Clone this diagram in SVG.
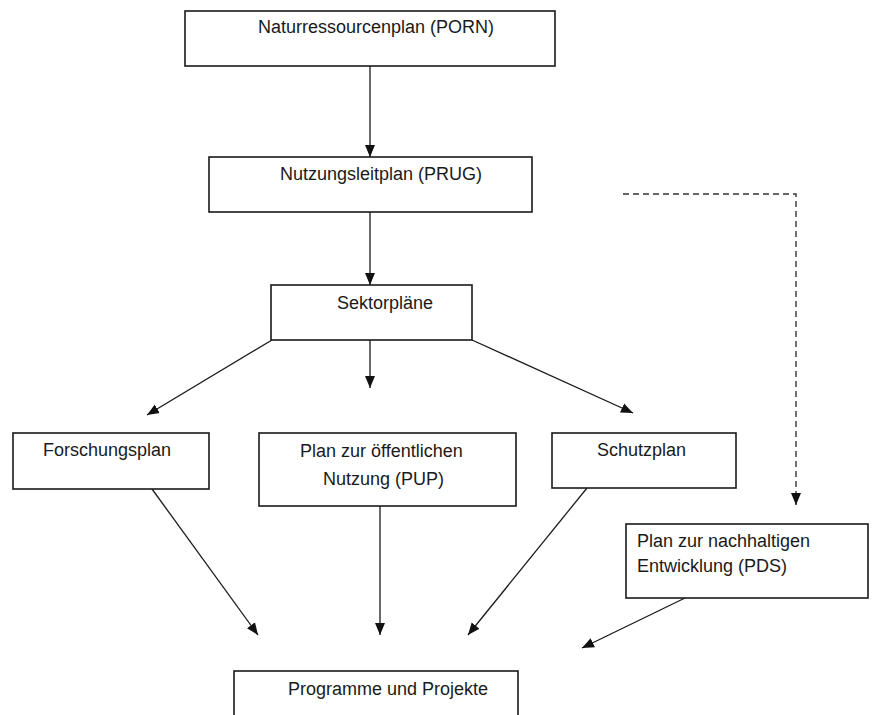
<svg xmlns="http://www.w3.org/2000/svg" width="872" height="715" viewBox="0 0 872 715">
<style>
.box{fill:#fff;stroke:#1a1a1a;stroke-width:1.6}
.t{font-family:"Liberation Sans",Arial,sans-serif;font-size:18px;fill:#1a1a1a}
.c{fill:none;stroke:#1a1a1a;stroke-width:1.3}
.d{fill:none;stroke:#333;stroke-width:1.4;stroke-dasharray:6 4}
</style>
<defs>
<marker id="ah" markerUnits="userSpaceOnUse" markerWidth="12" markerHeight="12" viewBox="0 0 12 10" refX="12" refY="5" orient="auto">
<path d="M0,0 L12,5 L0,10 z" fill="#111"/>
</marker>
</defs>
<rect width="872" height="715" fill="#fff"/>
<g id="connectors">
<line class="c" x1="370" y1="66" x2="370" y2="157" marker-end="url(#ah)"/>
<line class="c" x1="370" y1="212" x2="370" y2="285" marker-end="url(#ah)"/>
<line class="c" x1="272" y1="340" x2="147" y2="415" marker-end="url(#ah)"/>
<line class="c" x1="370" y1="340" x2="370" y2="388" marker-end="url(#ah)"/>
<line class="c" x1="472" y1="340" x2="633" y2="413" marker-end="url(#ah)"/>
<polyline class="d" points="623,194 796,194 796,505" marker-end="url(#ah)"/>
<line class="c" x1="152" y1="489" x2="258" y2="635" marker-end="url(#ah)"/>
<line class="c" x1="380" y1="506" x2="380" y2="635" marker-end="url(#ah)"/>
<line class="c" x1="587" y1="488" x2="468" y2="635" marker-end="url(#ah)"/>
<line class="c" x1="685" y1="598" x2="582" y2="648" marker-end="url(#ah)"/>
</g>
<g id="porn"><rect class="box" x="185" y="11" width="370" height="55"/><text class="t" x="258" y="33">Naturressourcenplan (PORN)</text></g>
<g id="prug"><rect class="box" x="209" y="157" width="323" height="55"/><text class="t" x="280" y="180">Nutzungsleitplan (PRUG)</text></g>
<g id="sektor"><rect class="box" x="271" y="285" width="201" height="55"/><text class="t" x="337" y="309">Sektorpläne</text></g>
<g id="forschung"><rect class="box" x="13" y="433" width="196" height="56"/><text class="t" x="43" y="456">Forschungsplan</text></g>
<g id="pup"><rect class="box" x="259" y="433" width="257" height="73"/><text class="t" x="300" y="457">Plan zur öffentlichen</text><text class="t" x="323" y="485">Nutzung (PUP)</text></g>
<g id="schutz"><rect class="box" x="552" y="433" width="184" height="55"/><text class="t" x="597" y="456">Schutzplan</text></g>
<g id="pds"><rect class="box" x="626" y="524" width="242" height="74"/><text class="t" x="637" y="547">Plan zur nachhaltigen</text><text class="t" x="637" y="572">Entwicklung (PDS)</text></g>
<g id="programme"><rect class="box" x="234" y="671" width="284" height="60"/><text class="t" x="288" y="695">Programme und Projekte</text></g>
</svg>
